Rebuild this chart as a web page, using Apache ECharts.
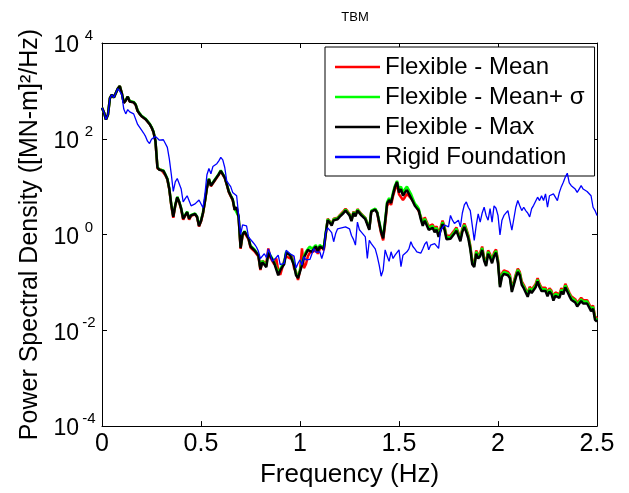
<!DOCTYPE html>
<html>
<head>
<meta charset="utf-8">
<script src="https://cdn.jsdelivr.net/npm/echarts@6/dist/echarts.min.js"></script>
<style>
html,body{margin:0;padding:0;background:#fff;}
#chart{width:629px;height:493px;}
</style>
</head>
<body>
<div id="chart"></div>
<script>
// Frequency grid (Hz), 0.01 Hz spacing from 0 to 2.5
const freqStepHz = 0.01;
const freqHz = Array.from({length: 251}, (_, i) => +(i * freqStepHz).toFixed(2));

// PSD values, stored as log10([MN-m]^2/Hz)
const flexMeanLog10 = [
 2.65,2.55,2.40,2.50,2.85,2.92,2.86,2.82,3.05,3.10,
 2.95,2.75,2.80,2.88,2.78,2.82,2.76,2.71,2.58,2.52,
 2.47,2.44,2.41,2.38,2.31,2.24,2.14,1.95,1.38,1.34,
 1.35,1.32,1.24,1.15,0.94,0.60,0.35,0.60,0.77,0.67,
 0.52,0.31,0.39,0.46,0.31,0.39,0.41,0.42,0.36,0.17,
 0.27,0.44,0.69,0.97,1.15,1.01,1.04,1.13,1.19,1.25,
 1.32,1.36,1.18,1.04,0.89,0.80,0.72,0.51,0.56,0.35,
 -0.30,-0.02,0.04,0.03,-0.10,-0.27,-0.30,-0.35,-0.38,-0.46,
 -0.74,-0.55,-0.52,-0.60,-0.29,-0.48,-0.55,-0.62,-0.50,-0.75,
 -0.84,-0.70,-0.55,-0.45,-0.42,-0.50,-0.45,-0.70,-0.78,-0.95,
 -0.75,-0.29,-0.70,-0.62,-0.45,-0.38,-0.42,-0.35,-0.30,-0.40,
 -0.30,-0.24,-0.33,0.00,0.33,0.28,0.22,0.33,0.31,0.35,
 0.40,0.41,0.49,0.54,0.49,0.43,0.31,0.48,0.41,0.53,
 0.51,0.43,0.40,0.35,0.33,0.12,0.49,0.48,0.53,0.46,
 0.22,0.02,-0.12,0.22,0.60,0.68,0.62,0.80,0.95,1.05,
 0.84,0.88,0.72,0.78,0.85,0.86,0.76,0.70,0.63,0.58,
 0.56,0.38,0.24,0.36,0.34,0.17,0.19,0.21,0.12,0.17,
 0.02,0.15,0.29,0.17,-0.03,-0.01,-0.02,-0.05,0.09,0.15,
 0.17,-0.07,0.13,0.23,0.12,-0.01,-0.23,-0.55,-0.61,-0.33,
 -0.43,-0.38,-0.25,-0.48,-0.59,-0.33,-0.41,-0.53,-0.38,-0.31,
 -0.53,-1.03,-0.81,-0.75,-0.76,-0.78,-0.84,-1.13,-1.12,-0.83,
 -0.71,-0.78,-0.98,-1.05,-1.02,-1.23,-1.09,-1.15,-1.13,-1.03,
 -0.91,-1.03,-1.11,-1.08,-1.11,-1.22,-1.12,-1.17,-1.31,-1.21,
 -1.21,-1.25,-1.12,-1.18,-1.03,-1.03,-1.21,-1.29,-1.31,-1.35,
 -1.43,-1.43,-1.32,-1.37,-1.38,-1.37,-1.41,-1.53,-1.48,-1.71,
 -1.75
];
const flexMeanSigmaLog10 = [
 2.65,2.55,2.40,2.50,2.85,2.92,2.86,2.82,3.05,3.10,
 2.95,2.76,2.81,2.88,2.79,2.82,2.77,2.72,2.60,2.53,
 2.48,2.45,2.42,2.39,2.32,2.25,2.15,1.96,1.41,1.36,
 1.37,1.34,1.26,1.17,0.96,0.63,0.39,0.62,0.79,0.69,
 0.55,0.35,0.41,0.48,0.35,0.41,0.43,0.44,0.38,0.20,
 0.30,0.46,0.71,0.99,1.17,1.03,1.06,1.15,1.21,1.27,
 1.34,1.38,1.20,1.06,0.91,0.82,0.74,0.54,0.58,0.38,
 -0.26,0.01,0.07,0.06,-0.07,-0.23,-0.27,-0.31,-0.34,-0.42,
 -0.70,-0.55,-0.60,-0.65,-0.36,-0.40,-0.50,-0.58,-0.55,-0.80,
 -0.72,-0.65,-0.58,-0.36,-0.38,-0.42,-0.38,-0.60,-0.82,-0.88,
 -0.85,-0.60,-0.45,-0.36,-0.30,-0.25,-0.30,-0.28,-0.22,-0.32,
 -0.22,-0.25,-0.28,0.04,0.32,0.27,0.21,0.32,0.30,0.34,
 0.39,0.39,0.47,0.52,0.47,0.42,0.30,0.47,0.40,0.52,
 0.50,0.42,0.39,0.34,0.32,0.13,0.50,0.49,0.54,0.47,
 0.28,0.08,-0.05,0.30,0.68,0.76,0.70,0.88,1.03,1.12,
 0.95,1.00,0.88,0.95,1.00,1.02,0.85,0.75,0.65,0.60,
 0.54,0.36,0.22,0.33,0.31,0.14,0.16,0.18,0.09,0.14,
 -0.01,0.12,0.26,0.14,-0.06,-0.04,-0.05,-0.08,0.06,0.12,
 0.14,-0.10,0.10,0.20,0.09,-0.04,-0.26,-0.58,-0.64,-0.36,
 -0.46,-0.41,-0.28,-0.51,-0.62,-0.36,-0.44,-0.56,-0.41,-0.34,
 -0.56,-1.06,-0.84,-0.78,-0.79,-0.81,-0.87,-1.16,-1.15,-0.86,
 -0.74,-0.81,-1.01,-1.08,-1.05,-1.26,-1.12,-1.18,-1.16,-1.06,
 -0.94,-1.06,-1.14,-1.11,-1.14,-1.25,-1.15,-1.20,-1.34,-1.24,
 -1.24,-1.28,-1.15,-1.21,-1.06,-1.06,-1.24,-1.32,-1.34,-1.38,
 -1.46,-1.46,-1.35,-1.40,-1.41,-1.40,-1.44,-1.56,-1.51,-1.74,
 -1.78
];
const flexMaxLog10 = [
 2.65,2.55,2.40,2.50,2.85,2.92,2.86,2.82,3.05,3.10,
 2.95,2.75,2.80,2.88,2.78,2.82,2.76,2.71,2.58,2.52,
 2.47,2.44,2.41,2.38,2.31,2.24,2.14,1.95,1.40,1.35,
 1.36,1.33,1.25,1.16,0.95,0.62,0.37,0.61,0.78,0.68,
 0.54,0.33,0.40,0.47,0.33,0.40,0.42,0.43,0.37,0.18,
 0.28,0.45,0.70,0.98,1.16,1.02,1.05,1.14,1.20,1.26,
 1.33,1.37,1.19,1.05,0.90,0.81,0.73,0.52,0.57,0.36,
 -0.28,0.00,0.06,0.05,-0.08,-0.25,-0.28,-0.33,-0.36,-0.44,
 -0.72,-0.58,-0.62,-0.68,-0.38,-0.45,-0.52,-0.60,-0.58,-0.85,
 -0.75,-0.68,-0.62,-0.38,-0.40,-0.43,-0.40,-0.65,-0.85,-0.91,
 -0.88,-0.64,-0.48,-0.40,-0.32,-0.35,-0.36,-0.30,-0.25,-0.35,
 -0.25,-0.28,-0.30,0.02,0.30,0.25,0.19,0.30,0.28,0.32,
 0.37,0.37,0.45,0.50,0.45,0.40,0.28,0.45,0.38,0.50,
 0.48,0.40,0.37,0.32,0.30,0.10,0.48,0.47,0.52,0.45,
 0.25,0.05,-0.08,0.27,0.65,0.72,0.66,0.84,1.00,1.10,
 0.88,0.95,0.81,0.88,0.93,0.90,0.77,0.69,0.60,0.55,
 0.50,0.32,0.18,0.29,0.27,0.10,0.12,0.14,0.05,0.10,
 -0.05,0.08,0.22,0.10,-0.10,-0.08,-0.09,-0.12,0.02,0.08,
 0.10,-0.14,0.06,0.16,0.05,-0.08,-0.30,-0.62,-0.68,-0.40,
 -0.50,-0.45,-0.32,-0.55,-0.66,-0.40,-0.48,-0.60,-0.45,-0.38,
 -0.60,-1.10,-0.88,-0.82,-0.83,-0.85,-0.91,-1.20,-1.19,-0.90,
 -0.78,-0.85,-1.05,-1.12,-1.09,-1.30,-1.16,-1.22,-1.20,-1.10,
 -0.98,-1.10,-1.18,-1.15,-1.18,-1.29,-1.19,-1.24,-1.38,-1.28,
 -1.28,-1.32,-1.19,-1.25,-1.10,-1.10,-1.28,-1.36,-1.38,-1.42,
 -1.50,-1.50,-1.39,-1.44,-1.45,-1.44,-1.48,-1.60,-1.55,-1.78,
 -1.82
];
const rigidLog10 = [
 2.65,2.55,2.40,2.50,2.85,2.92,2.86,2.82,3.05,3.08,
 2.92,2.62,2.52,2.61,2.56,2.54,2.52,2.50,2.30,2.26,
 2.18,2.12,2.05,1.95,1.90,1.99,2.02,2.05,2.08,1.97,
 1.96,1.98,1.90,1.82,1.58,1.26,0.90,1.10,1.17,1.15,
 0.95,0.68,0.75,0.81,0.78,0.60,0.62,0.64,0.68,0.72,
 0.74,0.56,0.85,1.25,1.38,1.27,1.42,1.46,1.48,1.54,
 1.61,1.56,1.40,1.12,1.06,1.00,0.88,0.84,0.81,0.84,
 0.00,0.20,0.22,0.18,-0.05,-0.10,-0.15,-0.20,-0.26,-0.35,
 -0.50,-0.48,-0.40,-0.48,-0.30,-0.40,-0.56,-0.53,-0.48,-0.43,
 -0.63,-0.66,-0.60,-0.33,-0.36,-0.40,-0.42,-0.45,-0.70,-0.60,
 -0.53,-0.64,-0.46,-0.53,-0.50,-0.52,-0.56,-0.29,-0.37,-0.38,
 -0.36,-0.50,-0.36,0.05,0.14,0.15,0.04,-0.15,0.02,0.12,
 0.13,0.14,0.15,0.16,0.13,0.12,-0.02,-0.10,-0.22,0.26,
 0.10,0.05,0.02,-0.05,-0.50,-0.12,-0.19,-0.15,-0.30,-0.45,
 -0.64,-0.87,-0.74,-0.32,-0.45,-0.56,-0.36,-0.50,-0.43,-0.40,
 -0.32,-0.67,-0.43,-0.46,-0.36,-0.30,-0.15,-0.25,-0.30,-0.36,
 -0.32,-0.39,-0.30,-0.20,-0.15,-0.32,-0.22,-0.22,-0.19,-0.22,
 -0.29,0.09,0.12,0.20,0.23,0.16,0.40,0.30,0.23,0.25,
 0.30,0.16,0.45,0.62,0.68,0.57,0.50,0.19,-0.12,0.19,
 0.43,0.26,0.45,0.57,0.40,0.30,0.54,0.26,0.60,0.55,
 0.40,-0.01,0.30,0.40,0.43,0.50,0.47,0.09,0.33,0.57,
 0.71,0.60,0.50,0.57,0.50,0.45,0.37,0.54,0.61,0.65,
 0.78,0.71,0.81,0.71,0.85,0.57,0.81,0.85,0.85,0.88,
 0.71,0.88,1.00,1.09,1.20,1.28,1.08,1.02,0.99,0.95,
 0.88,0.95,1.02,0.95,0.92,0.90,0.88,0.81,0.57,0.50,
 0.40
];

const seriesNames = ['Flexible - Mean', 'Flexible - Mean+ σ', 'Flexible - Max', 'Rigid Foundation'];
const seriesColors = ['#ff0000', '#00ff00', '#000000', '#0000ff'];
const xTickValues = [0, 0.5, 1, 1.5, 2, 2.5];
const yTickExponents = [-4, -2, 0, 2, 4];

const FONT = '"Liberation Sans", Arial, sans-serif';

function toPairs(logArr) {
  return logArr.map((e, i) => [freqHz[i], Math.pow(10, e)]);
}

const chart = echarts.init(document.getElementById('chart'), null, {renderer: 'canvas'});

const yMin = Math.pow(10, yTickExponents[0]);
const yMax = Math.pow(10, yTickExponents[yTickExponents.length - 1]);

function yLabel(v) {
  const e = Math.round(Math.log10(v));
  return '{b|10}{s|' + e + '}';
}

const commonX = {
  type: 'value', min: xTickValues[0], max: xTickValues[xTickValues.length - 1], interval: 0.5,
  axisLine: {show: true, onZero: false, lineStyle: {color: '#000', width: 1}},
  axisTick: {show: true, inside: true, length: 5, lineStyle: {color: '#000'}},
  splitLine: {show: false}
};
const commonY = {
  type: 'log', logBase: 100, min: yMin, max: yMax,
  axisLine: {show: true, onZero: false, lineStyle: {color: '#000', width: 1}},
  axisTick: {show: true, inside: true, length: 5, lineStyle: {color: '#000'}},
  minorTick: {show: false},
  splitLine: {show: false}
};

const option = {
  backgroundColor: '#fff',
  animation: false,
  title: {
    text: 'TBM', left: 350, top: 6, textAlign: 'center',
    textStyle: {fontFamily: FONT, fontSize: 13, fontWeight: 'normal', color: '#000'}
  },
  grid: {left: 102, right: 32, top: 43, bottom: 63, containLabel: false},
  legend: {
    orient: 'vertical', left: 325, top: 47,
    padding: [8, 10, 7, 10], itemGap: 6,
    itemWidth: 45, itemHeight: 2.5,
    backgroundColor: '#fff', borderColor: '#000', borderWidth: 1,
    textStyle: {fontFamily: FONT, fontSize: 24, color: '#000'},
    data: seriesNames.map((n, i) => ({
      name: n, icon: 'rect',
      itemStyle: {color: seriesColors[i], borderWidth: 0}
    }))
  },
  xAxis: [
    Object.assign({}, commonX, {
      position: 'bottom',
      name: 'Frequency (Hz)', nameLocation: 'middle', nameGap: 25,
      nameTextStyle: {fontFamily: FONT, fontSize: 26, color: '#000'},
      axisLabel: {show: true, margin: 6, fontFamily: FONT, fontSize: 25, color: '#000',
        formatter: v => String(v)}
    }),
    Object.assign({}, commonX, {position: 'top', axisLabel: {show: false}})
  ],
  yAxis: [
    Object.assign({}, commonY, {
      position: 'left',
      name: 'Power Spectral Density ([MN-m]²/Hz)', nameLocation: 'middle', nameGap: 56,
      nameTextStyle: {fontFamily: FONT, fontSize: 25, color: '#000'},
      axisLabel: {show: true, margin: 4, formatter: yLabel,
        rich: {
          b: {fontFamily: FONT, fontSize: 23, color: '#000', verticalAlign: 'bottom'},
          s: {fontFamily: FONT, fontSize: 15, color: '#000', verticalAlign: 'top', padding: [0, 0, 14, 1], width: 18, align: 'left'}
        }}
    }),
    Object.assign({}, commonY, {position: 'right', axisLabel: {show: false}})
  ],
  series: [
    {name: seriesNames[0], type: 'line', data: toPairs(flexMeanLog10), showSymbol: false, symbol: 'none',
      lineStyle: {color: seriesColors[0], width: 2.5}, itemStyle: {color: seriesColors[0]}, z: 2},
    {name: seriesNames[1], type: 'line', data: toPairs(flexMeanSigmaLog10), showSymbol: false, symbol: 'none',
      lineStyle: {color: seriesColors[1], width: 2.5}, itemStyle: {color: seriesColors[1]}, z: 3},
    {name: seriesNames[2], type: 'line', data: toPairs(flexMaxLog10), showSymbol: false, symbol: 'none',
      lineStyle: {color: seriesColors[2], width: 2.5}, itemStyle: {color: seriesColors[2]}, z: 4},
    {name: seriesNames[3], type: 'line', data: toPairs(rigidLog10), showSymbol: false, symbol: 'none',
      lineStyle: {color: seriesColors[3], width: 1.3}, itemStyle: {color: seriesColors[3]}, z: 5}
  ]
};

chart.setOption(option);
</script>
</body>
</html>
